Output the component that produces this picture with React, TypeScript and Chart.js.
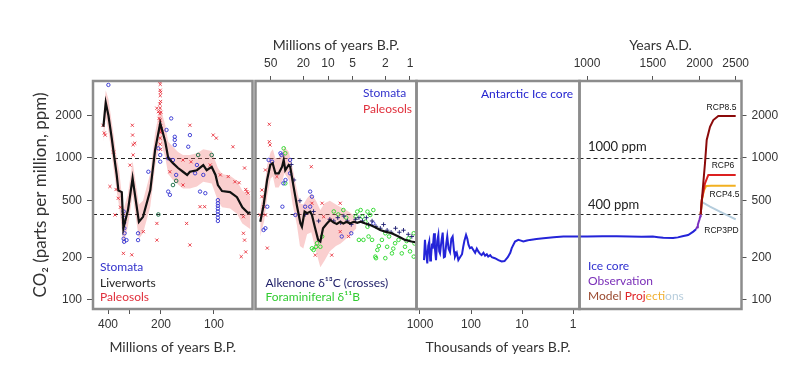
import React, { useEffect, useRef } from 'react';
import { Chart, registerables } from 'chart.js';

Chart.register(...registerables);

type Pt = [number, number];

// ---------------- shared ----------------
const W = 811;
const H = 376;
const PLOT_TOP = 81;
const PLOT_BOTTOM = 309;
const yRange = [86.4, 3485];
const yTicks = [100, 200, 500, 1000, 2000];
const refLevels = [400, 1000];

// ---------------- panel 1 : Millions of years (480-60 Myr) ----------------
const p1XRange = [60.4, 486.8];
const p1XTicks = [400, 300, 200, 100];
const p1XLabels = [400, 200, 100];
const p1Line: Pt[] = [[425,1660],[412,2450],[398,2000],[381,1380],[370,1050],[357,760],[349,590],[334,575],[327,320],[308,430],[290,720],[267,355],[253,385],[230,595],[216,1140],[202,1760],[189,1300],[182,1000],[171,920],[160,850],[150,800],[142,760],[137,800],[125,820],[115,890],[110,820],[103,865],[98,760],[95,645],[90,585],[81,575],[74,530],[69,450],[64,410],[62,415]];
const p1BandUpper: Pt[] = [[425,2100],[412,3000],[398,2600],[381,1800],[370,1400],[357,1000],[345,800],[327,430],[308,560],[290,950],[267,470],[253,500],[230,780],[216,1500],[202,2300],[189,1700],[182,1300],[171,1200],[160,1100],[150,1050],[137,1050],[125,1080],[115,1150],[103,1120],[95,850],[90,770],[81,750],[74,690],[69,590],[62,540]];
const p1BandLower: Pt[] = [[425,1300],[412,1950],[398,1550],[381,1060],[370,800],[357,580],[345,450],[327,245],[308,330],[290,550],[267,270],[253,295],[230,455],[216,870],[202,1350],[189,1000],[182,770],[171,700],[160,650],[150,610],[137,610],[125,630],[115,680],[103,660],[95,500],[90,450],[81,440],[74,405],[69,345],[62,315]];
const p1Paleosols: Pt[] = [[427,1700],[415,1450],[420,1500],[390,630],[372,1100],[365,397],[360,600],[350,520],[340,450],[327,213],[293,208],[300,890],[291,1700],[290,1450],[288,1240],[288,1050],[282,1270],[252,303],[211,2240],[207,2120],[211,346],[211,264],[205,1900],[198,1530],[178,800],[150,645],[150,968],[143,346],[137,1700],[137,244],[135,940],[120,454],[113,454],[105,893],[101,1450],[97,1380],[92,760],[83,740],[78,1200],[76,680],[72,670],[70,202],[68,386],[68,295],[67,850],[67,264],[66,600],[66,218],[65,580],[64,565]];
const p1PaleosolSpike: Pt[] = [[202,1250],[202,1380],[202,1520],[201,1680],[202,1850],[203,2050],[202,2250],[201,2500],[202,2750],[202,3000],[202,3300],[203,3450],[200,1600],[200,2100],[201,1150],[203,2400],[201,2900]];
const p1Stomata: Pt[] = [[398,3270],[326,420],[325,380],[324,350],[323,320],[322,295],[326,270],[324,257],[314,264],[270,295],[270,264],[236,800],[207,1170],[202,1050],[202,942],[186,1575],[182,995],[182,580],[178,550],[175,1900],[171,968],[167,1410],[167,1340],[167,1235],[164,760],[140,1200],[137,1450],[128,780],[125,893],[120,580],[115,760],[112,565],[95,505],[95,480],[95,460],[95,440],[95,420],[95,400],[95,380],[95,360]];
const p1Liverworts: Pt[] = [[207,400],[171,645],[164,690],[123,1050],[103,1050]];

// ---------------- panel 2 : Millions of years (77-0.83 Myr) ----------------
const p2XRange = [0.833, 76.6];
const p2XTicks = [50, 20, 10, 5, 2, 1];
const p2Line: Pt[] = [[67,356],[60.9,467],[55.3,700],[50.6,893],[47.3,918],[43.8,780],[39.9,780],[36.3,868],[34.7,968],[33.2,820],[30.2,893],[28.9,868],[26.3,628],[23.8,454],[21.7,346],[20.8,328],[19.3,419],[18,408],[16.5,419],[15.7,397],[14.5,328],[13.2,265],[12.4,258],[11.5,320],[10.3,346],[9.4,366],[8.6,352],[7.8,343],[7.1,356],[6.5,346],[5.9,356],[5.4,346],[4.8,356],[4.4,350],[4,356],[3.5,346],[3.05,337],[2.66,325],[2.31,311],[2.01,303],[1.67,295],[1.38,280],[1.15,265],[0.96,258],[0.83,254]];
const p2BandUpper: Pt[] = [[67,450],[60,600],[55,900],[50,1100],[47,1150],[44,1000],[40,1000],[36,1100],[34,1200],[30,1100],[27,850],[24,600],[22,480],[20,470],[18,520],[16,560],[14,500],[12.4,430],[11,480],[9.5,500],[8,470],[7,450],[6,430],[5,400],[4.5,380]];
const p2BandLower: Pt[] = [[67,280],[60,360],[55,540],[50,720],[47,740],[44,620],[40,620],[36,690],[34,780],[30,700],[27,470],[24,340],[22,240],[20,230],[18,290],[16,300],[14,220],[12.4,170],[11,190],[9.5,220],[8,240],[7,250],[6,270],[5,300],[4.5,320]];
const p2Paleosols: Pt[] = [[67,397],[64,595],[64,534],[61,454],[58,397],[58,823],[55,232],[52,1727],[52,1303],[51,1235],[42,740],[16,868],[15.7,480],[14.3,207],[11.8,480],[11.3,386],[9.4,366],[9,207],[7.1,480],[7.1,303],[5.6,280]];
const p2Stomata: Pt[] = [[61,311],[58,320],[55,454],[53,968],[48,942],[38,1080],[37,1050],[36,454],[35,663],[33,700],[29,780],[29,968],[25,397],[19,454],[16.5,580],[16.5,454],[15.7,534],[6.8,280],[5.2,295],[2.8,346]];
const p2Alkenone: Pt[] = [[28,900],[26,700],[22,500],[19,400],[15,420],[13,360],[9.5,370],[8.5,360],[7.6,380],[7,350],[6.4,390],[5.8,360],[5.2,340],[4.6,370],[4.2,380],[3.8,360],[3.4,380],[3.2,340],[2.9,360],[2.6,330],[2.3,320],[2.1,340],[1.9,310],[1.7,300],[1.5,320],[1.35,300],[1.2,310],[1.05,290],[0.95,280]];
const p2Foram: Pt[] = [[34.7,1170],[33.2,1080],[33.2,663],[15.7,231],[15,225],[14,237],[13.6,251],[12.4,237],[11.8,280],[8.5,420],[7.5,400],[6.5,430],[6,380],[4.6,386],[4.4,419],[4.2,265],[4,430],[3.8,386],[3.7,265],[3.5,356],[3.3,328],[3.3,419],[3.2,280],[3.05,397],[2.9,265],[2.8,430],[2.65,202],[2.6,197],[2.5,225],[2.4,240],[2.2,265],[2,295],[2,197],[1.9,237],[1.8,280],[1.66,213],[1.6,230],[1.52,251],[1.38,265],[1.26,213],[1.15,237],[1.1,260],[1.04,272],[1,220],[0.9,295],[0.9,202],[0.88,250]];

// ---------------- panel 3 : Thousands of years ----------------
const p3XRange = [0.746, 1171];
const p3XTicks = [1000, 100, 10, 1];
const p3IceCore: Pt[] = [[835,191],[800,265],[775,230],[719,181],[690,240],[658,258],[630,190],[609,200],[580,250],[564,230],[531,295],[510,230],[485,191],[460,260],[437,287],[420,220],[405,213],[380,260],[359,298],[340,200],[324,202],[305,250],[292,280],[275,230],[258,218],[243,270],[229,280],[215,220],[206,202],[190,215],[177,191],[164,200],[150,210],[142,237],[135,260],[125,287],[118,270],[112,245],[105,232],[97,235],[90,225],[83,215],[77,230],[72,220],[67,212],[62,207],[57,215],[53,205],[49,210],[46,202],[42,207],[39,200],[34,197],[29,191],[25,187],[22,188],[19,200],[17,215],[15.9,232],[13.7,258],[11.8,265],[10.5,262],[9.4,258],[8,262],[7,265],[5.2,269],[3.8,272],[2.4,277],[1.55,280],[0.79,280]];

// ---------------- panel 4 : Years A.D. ----------------
const p4XRange = [954.8, 2591];
const p4XTicks = [1000, 1500, 2000, 2500];
const p4IceCore: Pt[] = [[955,280],[1000,280],[1100,281],[1200,281],[1300,280],[1400,279],[1500,280],[1550,277],[1600,274],[1700,273],[1750,276],[1800,281],[1865,287],[1925,303],[1958,315]];
const p4Observation: Pt[] = [[1958,315],[1970,325],[1980,339],[1990,354],[2000,369],[2010,389],[2015,400]];
const p4Rcp85: Pt[] = [[2015,400],[2040,595],[2069,918],[2091,1340],[2134,1660],[2178,1850],[2246,1975],[2300,1975],[2500,1975]];
const p4Rcp6: Pt[] = [[2015,400],[2028,506],[2069,663],[2112,759],[2150,760],[2500,760]];
const p4Rcp45: Pt[] = [[2015,400],[2028,500],[2055,590],[2085,636],[2150,638],[2500,638]];
const p4Rcp3pd: Pt[] = [[2015,400],[2028,490],[2134,455],[2268,419],[2500,370]];

// ---------------- helpers ----------------
const xy = (d: Pt[]) => d.map(([x, y]) => ({ x, y }));

const lineDs = (d: Pt[], color: string, width: number, order: number) => ({
  data: xy(d), borderColor: color, borderWidth: width, pointRadius: 0, fill: false, order, tension: 0,
});
const ptsDs = (d: Pt[], color: string, style: string, radius: number, order: number) => ({
  data: xy(d), showLine: false, pointStyle: style, pointRadius: radius, pointBorderColor: color,
  pointBackgroundColor: 'rgba(0,0,0,0)', pointBorderWidth: 1, borderColor: color, backgroundColor: color, order,
});
const bandDs = (up: Pt[], lo: Pt[], color: string, order: number) => [
  { data: xy(up), borderWidth: 0, pointRadius: 0, fill: '+1', backgroundColor: color, borderColor: 'rgba(0,0,0,0)', order },
  { data: xy(lo), borderWidth: 0, pointRadius: 0, fill: false, borderColor: 'rgba(0,0,0,0)', order },
];

type Label = { parts: [string, string][]; dx: number; dy: number; size: number; family?: string; align?: CanvasTextAlign; weight?: string };

const overlayPlugin = {
  id: 'overlay',
  beforeDatasetsDraw(chart: any) {
    const { ctx, chartArea: a, scales } = chart;
    ctx.save();
    ctx.setLineDash([4, 3]);
    ctx.strokeStyle = '#222';
    ctx.lineWidth = 1;
    for (const v of refLevels) {
      const y = Math.round(scales.y.getPixelForValue(v)) + 0.5;
      ctx.beginPath();
      ctx.moveTo(a.left, y);
      ctx.lineTo(a.right, y);
      ctx.stroke();
    }
    ctx.restore();
  },
  afterDraw(chart: any, _args: any, opts: any) {
    const { ctx, chartArea: a } = chart;
    ctx.save();
    ctx.strokeStyle = '#8c8c8c';
    ctx.lineWidth = 2.5;
    ctx.strokeRect(a.left, a.top, a.right - a.left, a.bottom - a.top);
    const labels: Label[] = (opts && opts.labels) || [];
    for (const lb of labels) {
      ctx.font = `${lb.weight || 'normal'} ${lb.size}px ${lb.family || 'Lato'}`;
      ctx.textBaseline = 'middle';
      const total = lb.parts.reduce((s, p) => s + ctx.measureText(p[0]).width, 0);
      let x = a.left + lb.dx;
      if (lb.align === 'center') x -= total / 2;
      if (lb.align === 'right') x -= total;
      ctx.textAlign = 'left';
      for (const [t, c] of lb.parts) {
        ctx.fillStyle = c;
        ctx.fillText(t, x, a.top + lb.dy);
        x += ctx.measureText(t).width;
      }
    }
    ctx.restore();
  },
};

type AxisSpec = { title: string; ticks: number[]; labels: number[] };
type PanelSpec = {
  L: number; R: number; xRange: number[]; reverse: boolean;
  leftAxis?: boolean; rightAxis?: boolean; top?: AxisSpec; bottom?: AxisSpec;
  datasets: any[]; labels: Label[];
};

const TICK_FONT = { family: "'Liberation Sans', Arial, sans-serif", size: 12 };
const TITLE_FONT = { family: 'Lato, sans-serif', size: 14 };

function xAxis(spec: PanelSpec, ax: AxisSpec | undefined, position: 'top' | 'bottom', h: number) {
  return {
    type: 'logarithmic', position, display: !!ax, reverse: spec.reverse,
    min: spec.xRange[0], max: spec.xRange[1], bounds: 'data',
    afterBuildTicks: (s: any) => { if (ax) s.ticks = ax.ticks.map((v) => ({ value: v })); },
    afterFit: (s: any) => { s.height = h; },
    grid: { drawOnChartArea: false, drawTicks: true, tickLength: 5, color: '#555' },
    border: { display: false },
    ticks: {
      autoSkip: false, maxRotation: 0, padding: position === 'top' ? 5 : 3, color: '#333', font: TICK_FONT,
      callback: (v: any) => (ax && ax.labels.includes(Number(v)) ? String(v) : ''),
    },
    title: { display: !!ax, text: ax ? ax.title : '', color: '#333', font: TITLE_FONT, padding: 0 },
  };
}

function buildConfig(spec: PanelSpec): any {
  const leftW = spec.leftAxis ? 63 : 0;
  const rightW = spec.rightAxis ? 50 : 0;
  const topH = spec.top ? 44.4 : 0;
  const botH = spec.bottom ? 46.4 : 0;
  const scales: any = {
    x: xAxis(spec, spec.bottom, 'bottom', botH),
    y: {
      type: 'logarithmic', position: spec.rightAxis ? 'right' : 'left',
      display: !!(spec.leftAxis || spec.rightAxis),
      min: yRange[0], max: yRange[1], bounds: 'data',
      afterBuildTicks: (s: any) => { s.ticks = yTicks.map((v) => ({ value: v })); },
      afterFit: (s: any) => { s.width = leftW || rightW; },
      grid: { drawOnChartArea: false, drawTicks: true, tickLength: spec.leftAxis ? 6 : 5, color: '#555' },
      border: { display: false },
      ticks: { autoSkip: false, padding: 5, color: '#333', font: TICK_FONT, callback: (v: any) => String(v) },
      title: {
        display: !!spec.leftAxis, text: 'CO\u2082 (parts per million, ppm)', color: '#333',
        font: { family: 'Lato, sans-serif', size: 17 }, padding: 0,
      },
    },
  };
  if (spec.top) scales.xTop = xAxis(spec, spec.top, 'top', topH);
  return {
    type: 'line',
    data: { datasets: spec.datasets },
    options: {
      responsive: false, animation: false, devicePixelRatio: 1, events: [],
      layout: {
        padding: {
          left: spec.L - leftW, right: W - spec.R - rightW,
          top: PLOT_TOP - topH, bottom: H - PLOT_BOTTOM - botH,
        },
      },
      plugins: { legend: { display: false }, tooltip: { enabled: false }, overlay: { labels: spec.labels } },
      scales,
    },
    plugins: [overlayPlugin],
  };
}

const RED = 'rgba(232,40,52,0.85)';
const BLUE = 'rgba(50,50,210,0.9)';
const GREEN = 'rgba(40,215,40,0.9)';
const NAVY = 'rgba(25,25,110,0.9)';
const BAND = 'rgba(240,110,110,0.33)';

const panels: PanelSpec[] = [
  {
    L: 93, R: 252.5, xRange: p1XRange, reverse: true, leftAxis: true,
    bottom: { title: 'Millions of years B.P.', ticks: p1XTicks, labels: p1XLabels },
    datasets: [
      lineDs(p1Line, '#111', 2.2, 0),
      ptsDs(p1Stomata, BLUE, 'circle', 1.7, 1),
      ptsDs(p1Liverworts, 'rgba(30,110,70,0.95)', 'circle', 1.8, 1),
      ptsDs(p1Paleosols, RED, 'crossRot', 2.2, 2),
      ptsDs(p1PaleosolSpike, RED, 'crossRot', 2.2, 2),
      ...bandDs(p1BandUpper, p1BandLower, BAND, 3),
    ],
    labels: [
      { parts: [['Stomata', '#3333cc']], dx: 7, dy: 185.7, size: 12 },
      { parts: [['Liverworts', '#222']], dx: 7, dy: 201.7, size: 12 },
      { parts: [['Paleosols', '#e0303c']], dx: 7, dy: 216.3, size: 12 },
    ],
  },
  {
    L: 255.5, R: 416.5, xRange: p2XRange, reverse: true,
    top: { title: 'Millions of years B.P.', ticks: p2XTicks, labels: p2XTicks },
    datasets: [
      lineDs(p2Line, '#111', 2.2, 0),
      ptsDs(p2Alkenone, NAVY, 'cross', 2.2, 1),
      ptsDs(p2Stomata, BLUE, 'circle', 1.7, 1),
      ptsDs(p2Foram, GREEN, 'circle', 1.8, 2),
      ptsDs(p2Paleosols, RED, 'crossRot', 2.2, 2),
      ...bandDs(p2BandUpper, p2BandLower, BAND, 3),
    ],
    labels: [
      { parts: [['Stomata', '#3333cc']], dx: 107.5, dy: 11.7, size: 12 },
      { parts: [['Paleosols', '#e0303c']], dx: 107.5, dy: 28, size: 12 },
      { parts: [['Alkenone \u03b4\u00b9\u00b3C (crosses)', '#22226a']], dx: 10, dy: 201.7, size: 12 },
      { parts: [['Foraminiferal \u03b4\u00b9\u00b9B', '#33cc33']], dx: 10, dy: 215.7, size: 12 },
    ],
  },
  {
    L: 416.5, R: 579.5, xRange: p3XRange, reverse: true,
    bottom: { title: 'Thousands of years B.P.', ticks: p3XTicks, labels: p3XTicks },
    datasets: [lineDs(p3IceCore, '#2424d8', 2, 0)],
    labels: [{ parts: [['Antarctic Ice core', '#2424d0']], dx: 64.5, dy: 13, size: 12 }],
  },
  {
    L: 579.5, R: 741.5, xRange: p4XRange, reverse: false, rightAxis: true,
    top: { title: 'Years A.D.', ticks: p4XTicks, labels: p4XTicks },
    datasets: [
      lineDs(p4Observation, '#7a2fbe', 2, 0),
      lineDs(p4IceCore, '#2424d8', 2, 1),
      lineDs(p4Rcp85, '#8b0a0a', 2, 1),
      lineDs(p4Rcp6, '#dc2020', 2, 1),
      lineDs(p4Rcp45, '#f2b020', 2, 2),
      lineDs(p4Rcp3pd, '#b4ccdc', 2, 3),
    ],
    labels: [
      { parts: [['1000 ppm', '#222']], dx: 8.5, dy: 66.3, size: 13 },
      { parts: [['400 ppm', '#222']], dx: 8.5, dy: 124, size: 13 },
      { parts: [['RCP8.5', '#111']], dx: 142, dy: 26.3, size: 8.5, family: "'Liberation Sans'", align: 'center' },
      { parts: [['RCP6', '#111']], dx: 143.5, dy: 85, size: 8.5, family: "'Liberation Sans'", align: 'center' },
      { parts: [['RCP4.5', '#111']], dx: 145, dy: 114, size: 8.5, family: "'Liberation Sans'", align: 'center' },
      { parts: [['RCP3PD', '#111']], dx: 142, dy: 149.7, size: 8.5, family: "'Liberation Sans'", align: 'center' },
      { parts: [['Ice core', '#3030d0']], dx: 8.5, dy: 185, size: 12 },
      { parts: [['Observation', '#7a2fb8']], dx: 8.5, dy: 200, size: 12 },
      { parts: [['Model ', '#9a4a30'], ['Proj', '#e02428'], ['ecti', '#f0b030'], ['ons', '#b8cedd']], dx: 8.5, dy: 214.7, size: 12 },
    ],
  },
];

export default function App() {
  const boxRef = useRef<HTMLDivElement>(null);
  useEffect(() => {
    const canvases = Array.from(boxRef.current!.querySelectorAll('canvas'));
    const charts = panels.map((p, i) => new Chart(canvases[i], buildConfig(p)));
    return () => charts.forEach((c) => c.destroy());
  }, []);
  return (
    <div ref={boxRef} style={{ position: 'fixed', left: 0, top: 0, width: W, height: H, background: '#fff' }}>
      {panels.map((_, i) => (
        <canvas key={i} width={W} height={H} style={{ position: 'absolute', left: 0, top: 0, width: W, height: H }} />
      ))}
    </div>
  );
}
